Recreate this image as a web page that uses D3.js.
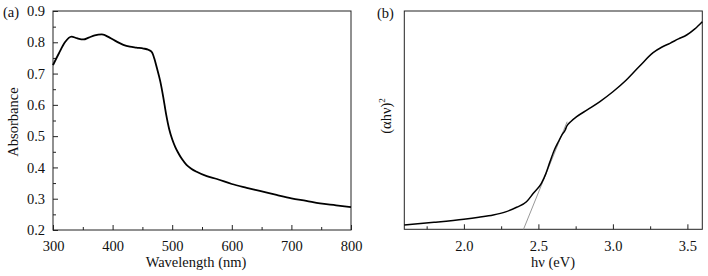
<!DOCTYPE html>
<html><head><meta charset="utf-8">
<script src="https://cdn.jsdelivr.net/npm/d3@7"></script>
<style>body{margin:0;background:#fff}svg{display:block}text{font-family:"Liberation Serif","Times New Roman",serif;fill:#111}</style>
</head><body><svg id="c" width="708" height="276"></svg>
<script>
// Panel (a): absorbance spectrum
const wavelength = [300,310,320,331,340,351,360,370,382,395,407,418,429,440,452,460,466,470,474,480,485,490,495,500,505,510,517,524,532,541,558,575,600,625,647,675,700,725,748,775,800];
const absorbance = [0.727,0.765,0.800,0.818,0.813,0.809,0.815,0.822,0.825,0.815,0.802,0.792,0.786,0.783,0.780,0.776,0.768,0.748,0.720,0.675,0.625,0.568,0.522,0.490,0.466,0.447,0.425,0.408,0.396,0.386,0.372,0.363,0.347,0.335,0.325,0.312,0.301,0.293,0.285,0.279,0.273];
const aXTicks = [300,400,500,600,700,800];
const aYTicks = [0.2,0.3,0.4,0.5,0.6,0.7,0.8,0.9];

// Panel (b): Tauc plot (arbitrary units)
const energy = [1.6,1.8,2.0,2.1,2.197,2.28,2.354,2.42,2.466,2.52,2.55,2.578,2.605,2.634,2.66,2.68,2.69,2.72,2.757,2.83,2.913,3.0,3.09,3.18,3.27,3.33,3.383,3.44,3.495,3.55,3.6];
const tauc = [0.20,0.32,0.46,0.55,0.655,0.80,1.01,1.26,1.65,2.10,2.55,3.10,3.60,4.01,4.35,4.55,4.72,4.95,5.16,5.48,5.85,6.30,6.84,7.48,8.09,8.35,8.52,8.72,8.90,9.18,9.51];
const fitLine = [[2.4,0],[2.693,4.93]];
const bXTicks = [2.0,2.5,3.0,3.5];

const FS = 14.5;
const svg = d3.select("#c");

function panel(o){
  const g = svg.append("g");
  const x = d3.scaleLinear().domain(o.xd).range([o.l,o.r]);
  const y = d3.scaleLinear().domain(o.yd).range([o.b,o.t]);
  const xb = d3.axisBottom(x).tickValues(o.xMinor).tickSize(-3).tickFormat("");
  g.append("g").attr("transform",`translate(0,${o.b})`).call(xb).call(s=>{s.select(".domain").remove();s.selectAll("line").attr("stroke","#222");});
  const xa = d3.axisBottom(x).tickValues(o.xTicks).tickSize(-5).tickPadding(11).tickFormat(o.xFmt);
  g.append("g").attr("transform",`translate(0,${o.b})`).call(xa).call(s=>{s.select(".domain").remove();s.selectAll("line").attr("stroke","#222");s.selectAll("text").attr("font-size",FS);});
  if(o.yTicks){
    const ym = d3.axisLeft(y).tickValues(o.yMinor).tickSize(-3).tickFormat("");
    g.append("g").attr("transform",`translate(${o.l},0)`).call(ym).call(s=>{s.select(".domain").remove();s.selectAll("line").attr("stroke","#222");});
    const ya = d3.axisLeft(y).tickValues(o.yTicks).tickSize(-5).tickPadding(8).tickFormat(d3.format(".1f"));
    g.append("g").attr("transform",`translate(${o.l},0)`).call(ya).call(s=>{s.select(".domain").remove();s.selectAll("line").attr("stroke","#222");s.selectAll("text").attr("font-size",FS);});
  }
  g.append("rect").attr("x",o.l).attr("y",o.t).attr("width",o.r-o.l).attr("height",o.b-o.t).attr("fill","none").attr("stroke","#222").attr("stroke-width",1);
  return {g,x,y};
}

// (a)
const A = panel({l:53,r:351,t:11,b:230,xd:[300,800],yd:[0.2,0.9],
  xTicks:aXTicks,xMinor:d3.range(350,800,100),xFmt:d3.format("d"),
  yTicks:aYTicks,yMinor:d3.range(0.25,0.9,0.1)});
A.g.append("path").datum(wavelength.map((w,i)=>[w,absorbance[i]]))
  .attr("d",d3.line().x(d=>A.x(d[0])).y(d=>A.y(d[1])).curve(d3.curveMonotoneX))
  .attr("fill","none").attr("stroke","#000").attr("stroke-width",1.8);
svg.append("text").attr("x",196).attr("y",267).attr("text-anchor","middle").attr("font-size",FS).text("Wavelength (nm)");
svg.append("text").attr("transform","translate(18,122) rotate(-90)").attr("text-anchor","middle").attr("font-size",FS).text("Absorbance");
svg.append("text").attr("x",3).attr("y",17).attr("font-size",FS).text("(a)");

// (b)
const B = panel({l:404.3,r:702.3,t:11,b:229.3,xd:[1.6,3.6],yd:[0,10],
  xTicks:bXTicks,xMinor:[1.75,2.25,2.75,3.25],xFmt:d3.format(".1f")});
B.g.append("path").datum(fitLine)
  .attr("d",d3.line().x(d=>B.x(d[0])).y(d=>B.y(d[1])))
  .attr("fill","none").attr("stroke","#999").attr("stroke-width",1);
B.g.append("path").datum(energy.map((e,i)=>[e,tauc[i]]))
  .attr("d",d3.line().x(d=>B.x(d[0])).y(d=>B.y(d[1])).curve(d3.curveMonotoneX))
  .attr("fill","none").attr("stroke","#000").attr("stroke-width",1.5);
svg.append("text").attr("x",553).attr("y",267).attr("text-anchor","middle").attr("font-size",FS).text("hν (eV)");
const yl = svg.append("text").attr("transform","translate(391,116) rotate(-90)").attr("text-anchor","middle").attr("font-size",FS);
yl.append("tspan").text("(αhν)");
yl.append("tspan").attr("font-size",9).attr("dy",-6).text("2");
svg.append("text").attr("x",377).attr("y",18).attr("font-size",FS).text("(b)");
</script></body></html>
